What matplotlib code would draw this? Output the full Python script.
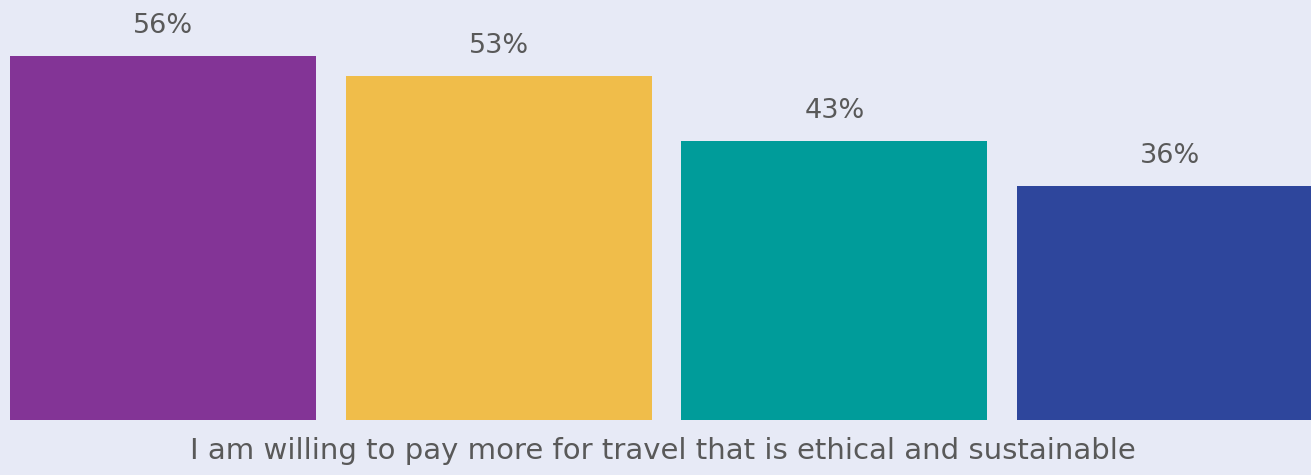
import matplotlib.pyplot as plt

categories = ['A', 'B', 'C', 'D']
values = [56, 53, 43, 36]
labels = ['56%', '53%', '43%', '36%']
colors = ['#833496', '#F0BD4A', '#009C9A', '#2E469C']
caption = 'I am willing to pay more for travel that is ethical and sustainable'

bg = '#E7EAF6'
txt = '#595959'

fig = plt.figure(figsize=(13.11, 4.75), dpi=100, facecolor=bg)
ax = fig.add_axes([0, 0, 1, 1])
ax.set_facecolor(bg)

x = list(range(len(categories)))
ax.bar(x, values, width=0.9116, color=colors)

for xi, v, lab in zip(x, values, labels):
    ax.text(xi, v + 2.6, lab, ha='center', va='bottom', fontsize=19.5,
            color=txt, family='DejaVu Sans')

ax.text(1.49, -4.7, caption, ha='center', va='center', fontsize=21,
        color=txt, family='DejaVu Sans')

ax.set_xlim(-0.4856, 3.42)
ax.set_ylim(-55 / 6.5, 420 / 6.5)
ax.axis('off')

fig.savefig('out.png', dpi=100, facecolor=bg)
